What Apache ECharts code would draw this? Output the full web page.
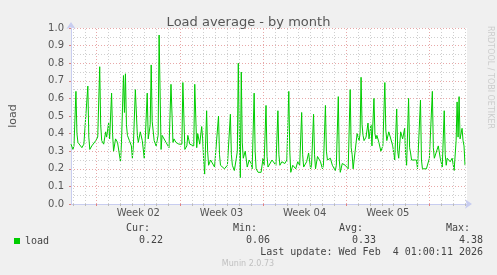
<!DOCTYPE html>
<html><head><meta charset="utf-8">
<script src="https://cdn.jsdelivr.net/npm/echarts@6/dist/echarts.min.js"></script>
<style>html,body{margin:0;padding:0;background:#f0f0f0}#c{width:497px;height:275px}</style>
</head><body><div id="c"></div><script>
// hours since Mon 5 Jan 2026 00:00
const hours = [-52,-48,-46,-42,-40,-38,-34,-30,-26,-22,-18,-16,-14,-10,-6,-2,2,6,8,10,14,18,20,24,26,30,32,34,38,42,46,48,50,54,56,58,60,62,66,68,70,72,74,78,82,84,88,92,96,98,102,104,108,110,112,116,120,124,126,130,132,136,140,142,146,150,154,156,160,164,166,172,174,178,182,184,188,192,196,198,202,204,208,212,214,216,218,222,224,226,230,234,238,242,246,248,250,254,258,260,264,266,270,272,274,278,282,284,286,288,290,292,294,296,300,304,308,312,314,318,320,322,326,328,332,336,338,342,344,346,350,354,358,362,366,368,370,374,380,384,388,390,392,396,402,406,410,414,416,418,424,428,432,434,438,440,442,446,452,456,458,462,464,466,472,476,482,484,488,490,492,496,498,502,508,512,514,516,518,522,526,530,532,534,536,538,540,544,548,550,554,556,560,562,564,566,570,574,578,582,584,586,590,594,598,602,606,608,610,614,618,622,624,626,630,632,634,636,640,646,648,654,656,658,662,666,672,678,680,682,686,690,694,698,702,704,706,708,714,718,722,726,728,730,732,734,736,738,740,742,744];
const loads = [.34,.31,.33,.64,.40,.35,.34,.32,.34,.33,.67,.38,.31,.33,.32,.36,.38,.78,.45,.36,.34,.41,.38,.46,.37,.63,.40,.30,.37,.35,.36,.24,.35,.73,.52,.74,.45,.39,.36,.37,.33,.26,.33,.65,.39,.35,.41,.36,.26,.37,.63,.37,.45,.79,.47,.36,.33,.39,.96,.31,.39,.40,.35,.36,.32,.68,.35,.37,.35,.36,.34,.34,.69,.31,.33,.39,.34,.34,.33,.68,.32,.40,.34,.44,.37,.25,.17,.53,.30,.22,.25,.24,.21,.20,.50,.28,.22,.23,.20,.19,.22,.21,.51,.28,.22,.19,.26,.30,.80,.40,.15,.75,.35,.26,.30,.21,.25,.23,.20,.63,.30,.20,.18,.17,.18,.26,.22,.56,.27,.21,.20,.25,.24,.22,.53,.28,.22,.24,.23,.25,.64,.30,.18,.22,.20,.24,.22,.52,.28,.21,.24,.29,.20,.22,.51,.28,.20,.27,.24,.20,.22,.56,.30,.25,.26,.22,.19,.22,.61,.25,.18,.23,.24,.22,.20,.65,.32,.28,.20,.30,.40,.36,.40,.72,.45,.39,.36,.38,.46,.37,.45,.33,.60,.40,.37,.39,.35,.30,.33,.69,.42,.36,.41,.40,.33,.25,.54,.30,.26,.41,.37,.43,.28,.22,.60,.32,.29,.25,.24,.25,.20,.59,.25,.20,.21,.20,.26,.64,.32,.26,.25,.33,.26,.21,.53,.28,.22,.26,.24,.26,.19,.36,.58,.38,.61,.37,.40,.43,.36,.33,.22];
const weekLines = [0,168,336,504,672];
const weekLabelPos = [84,252,420,588];
const weekLabels = ['Week 02','Week 03','Week 04','Week 05'];
const statNames = ['Cur:','Min:','Avg:','Max:'];
const statValues = ['0.22','0.06','0.33','4.38'];
const seriesName = 'load';
const lastUpdate = 'Last update: Wed Feb  4 01:00:11 2026';

const X_MIN = -52, X_MAX = 748;
const dayLines = [];
for (let h = -48; h <= 744; h += 24) if (h % 168 !== 0) dayLines.push(h);

const chart = echarts.init(document.getElementById('c'));
const sans = 'DejaVu Sans', mono = 'DejaVu Sans Mono';
const statNameRight = [150,257,363,470];
const statValRight = [163,270,376,483];
const graphics = [];
statNames.forEach((n,i)=>graphics.push({type:'text',x:statNameRight[i],y:228,style:{text:n,font:'10px '+mono,fill:'#444',textAlign:'right',textVerticalAlign:'middle'}}));
statValues.forEach((n,i)=>graphics.push({type:'text',x:statValRight[i],y:240,style:{text:n,font:'10px '+mono,fill:'#444',textAlign:'right',textVerticalAlign:'middle'}}));
graphics.push({type:'text',x:483,y:252,style:{text:lastUpdate,font:'10px '+mono,fill:'#444',textAlign:'right',textVerticalAlign:'middle'}});
graphics.push({type:'text',x:248,y:264,style:{text:'Munin 2.0.73',font:'8px '+sans,fill:'#c0c0c0',textAlign:'center',textVerticalAlign:'middle'}});
graphics.push({type:'text',x:490,y:26,rotation:-Math.PI/2,style:{text:'RRDTOOL / TOBI OETIKER',font:'8px '+sans,fill:'#cccccc',textAlign:'left',textVerticalAlign:'middle'}});

chart.setOption({
  backgroundColor:'#f0f0f0',
  animation:false,
  title:{text:'Load average - by month',left:'center',top:11,textStyle:{fontFamily:sans,fontSize:13,fontWeight:'normal',color:'#555'}},
  legend:{data:[seriesName],left:9,top:231,icon:'rect',itemWidth:6,itemHeight:6,textStyle:{fontFamily:mono,fontSize:10,color:'#444'}},
  grid:{left:67,right:30,top:28,bottom:71,show:true,backgroundColor:'#fff',borderWidth:0},
  xAxis:[{
    type:'value',min:X_MIN,max:X_MAX,
    axisLine:{show:true,onZero:false,lineStyle:{color:'#c8cdf0',width:1},symbol:['none','arrow'],symbolSize:[7,7],symbolOffset:[0,5]},
    axisTick:{show:true,customValues:dayLines,length:2,inside:false,lineStyle:{color:'#bbb'}},
    axisLabel:{show:true,customValues:weekLabelPos,formatter:v=>weekLabels[weekLabelPos.indexOf(v)]||'',fontFamily:sans,fontSize:10,color:'#555',margin:4},
    splitLine:{show:false}
  },{
    type:'value',min:X_MIN,max:X_MAX,position:'bottom',
    axisLine:{show:false,onZero:false},
    axisTick:{show:true,customValues:weekLines,length:2,lineStyle:{color:'#e08080'}},
    axisLabel:{show:false},splitLine:{show:false}
  }],
  yAxis:{
    type:'value',min:0,max:1,interval:0.1,
    name:seriesName,nameLocation:'middle',nameGap:52,nameTextStyle:{fontFamily:sans,fontSize:11,color:'#555'},
    axisLine:{show:true,onZero:false,lineStyle:{color:'#c8cdf0'},symbol:['none','arrow'],symbolSize:[7,7],symbolOffset:[0,6]},
    axisTick:{show:true,length:2,lineStyle:{color:'#e08080'}},
    axisLabel:{formatter:v=>v.toFixed(1),fontFamily:sans,fontSize:10,color:'#555',margin:7},
    splitLine:{show:true,lineStyle:{color:'#e8a8a8',type:[1,2],width:1}},
    minorSplitLine:{show:true,lineStyle:{color:'#cfcfcf',type:[1,2],width:1}},
    minorTick:{show:false,splitNumber:2}
  },
  graphic:graphics,
  series:[{
    type:'line',name:'grid',data:[],z:1,silent:true,
    markLine:{silent:true,symbol:['none','none'],label:{show:false},animation:false,
      data:[
        ...dayLines.map(h=>({xAxis:h,lineStyle:{color:'#cfcfcf',type:[1,2],width:1}})),
        ...weekLines.map(h=>({xAxis:h,lineStyle:{color:'#e8a8a8',type:[1,2],width:1}}))
      ]}
  },{
    type:'line',name:seriesName,z:3,
    data:hours.map((h,i)=>[h,loads[i]]),
    showSymbol:false,symbol:'none',
    lineStyle:{color:'#00cc00',width:1},itemStyle:{color:'#00cc00'},
    clip:true
  }]
});
</script></body></html>
